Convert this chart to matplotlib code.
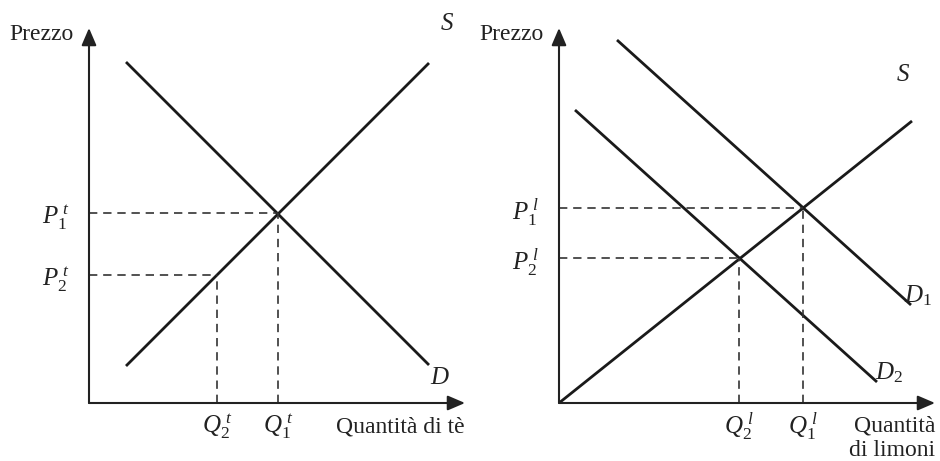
import matplotlib
matplotlib.use("Agg")
import matplotlib.pyplot as plt

plt.rcParams['font.family'] = ['Liberation Serif', 'DejaVu Serif']
plt.rcParams['mathtext.fontset'] = 'custom'
plt.rcParams['mathtext.rm'] = 'Liberation Serif'
plt.rcParams['mathtext.it'] = 'Liberation Serif:italic'

# ---- Left panel: tea market ----
tea_S_q = [3.7, 34.0]
tea_S_p = [3.7, 34.0]
tea_D_q = [3.7, 34.0]
tea_D_p = [34.1, 3.8]
tea_eq1 = (18.9, 19.0)   # (Q1, P1)
tea_eq2 = (12.8, 12.8)   # (Q2, P2)

# ---- Right panel: lemon market ----
lem_S_q = [0.0, 35.3]
lem_S_p = [0.0, 28.2]
lem_D1_q = [5.8, 35.2]
lem_D1_p = [36.3, 9.8]
lem_D2_q = [1.6, 31.8]
lem_D2_p = [29.3, 2.1]
lem_eq1 = (24.4, 19.5)
lem_eq2 = (18.0, 14.5)

xmax, ymax = 37.6, 37.5
W, H = 940, 461
fig = plt.figure(figsize=(W / 100, H / 100), dpi=100)

txt = '#222222'

def make_ax(left_px):
    ax = fig.add_axes([left_px / W, (H - 403) / H, 376 / W, 375 / H])
    ax.set_xlim(0, xmax)
    ax.set_ylim(0, ymax)
    for s in ax.spines.values():
        s.set_visible(False)
    ax.patch.set_alpha(0)
    style = '-|>,head_length=0.7,head_width=0.3'
    for xy in [(xmax, 0), (0, ymax)]:
        ax.annotate('', xy=xy, xytext=(0, 0), annotation_clip=False,
                    arrowprops=dict(arrowstyle=style, mutation_scale=15,
                                    lw=1.5, color=txt, shrinkA=0, shrinkB=0))
    ax.tick_params(length=0, labelsize=18, pad=0, labelcolor=txt)
    ax.text(-1.5, ymax - 0.7, 'Prezzo', ha='right', va='center', fontsize=17,
            color=txt)
    return ax

lc = '#1a1a1a'
fs = 18

# Left
ax1 = make_ax(89)
ax1.plot(tea_S_q, tea_S_p, color=lc, lw=2.0, solid_capstyle='butt')
ax1.plot(tea_D_q, tea_D_p, color=lc, lw=2.0, solid_capstyle='butt')
for q, p in [tea_eq1, tea_eq2]:
    ax1.plot([0, q], [p, p], color='#333333', lw=1.2, dashes=(5, 3.5))
    ax1.plot([q, q], [0, p], color='#333333', lw=1.2, dashes=(5, 3.5))
ax1.set_yticks([tea_eq2[1], tea_eq1[1]],
               [r'$P_2^{\;t}$', r'$P_1^{\;t}$'])
ax1.set_xticks([tea_eq2[0], tea_eq1[0]],
               [r'$Q_2^{\;t}$', r'$Q_1^{\;t}$'])
ax1.tick_params(axis='y', pad=14)
ax1.tick_params(axis='x', pad=6)
ax1.text(35.8, 37.9, 'S', style='italic', fontsize=fs, ha='center', va='center',
         color=txt)
ax1.text(35.0, 2.5, 'D', style='italic', fontsize=fs, ha='center', va='center',
         color=txt)
ax1.text(xmax, -2.4, 'Quantità di tè', ha='right', va='center', fontsize=17,
         color=txt)

# Right
ax2 = make_ax(559)
ax2.plot(lem_S_q, lem_S_p, color=lc, lw=2.0, solid_capstyle='butt')
ax2.plot(lem_D1_q, lem_D1_p, color=lc, lw=2.0, solid_capstyle='butt')
ax2.plot(lem_D2_q, lem_D2_p, color=lc, lw=2.0, solid_capstyle='butt')
for q, p in [lem_eq1, lem_eq2]:
    ax2.plot([0, q], [p, p], color='#333333', lw=1.2, dashes=(5, 3.5))
    ax2.plot([q, q], [0, p], color='#333333', lw=1.2, dashes=(5, 3.5))
ax2.set_yticks([lem_eq2[1], lem_eq1[1]],
               [r'$P_2^{\;l}$', r'$P_1^{\;l}$'])
ax2.set_xticks([lem_eq2[0], lem_eq1[0]],
               [r'$Q_2^{\;l}$', r'$Q_1^{\;l}$'])
ax2.tick_params(axis='y', pad=14)
ax2.tick_params(axis='x', pad=6)
ax2.text(34.4, 32.8, 'S', style='italic', fontsize=fs, ha='center', va='center',
         color=txt)
ax2.text(35.9, 10.7, r'$D_1$', fontsize=fs, ha='center', va='center', color=txt)
ax2.text(33.0, 3.0, r'$D_2$', fontsize=fs, ha='center', va='center', color=txt)
ax2.text(xmax, -2.3, 'Quantità', ha='right', va='center', fontsize=17,
         color=txt)
ax2.text(xmax, -4.7, 'di limoni', ha='right', va='center', fontsize=17,
         color=txt)

fig.savefig('out.png', dpi=100, facecolor='white')
